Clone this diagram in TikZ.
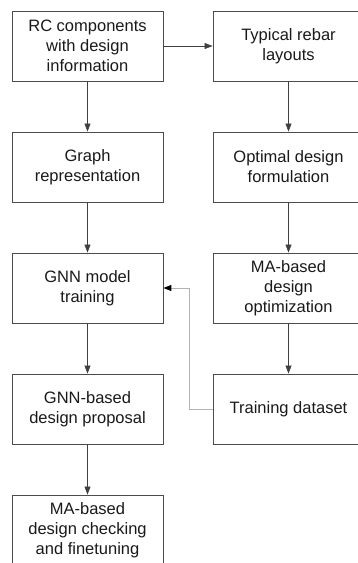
\documentclass[tikz,border=0pt]{standalone}
\usepackage{fontspec}
\setmainfont{Liberation Sans}
\usetikzlibrary{arrows.meta}
\begin{document}
\begin{tikzpicture}[x=1pt,y=-1pt,
  stepbox/.style={draw=black!70, line width=0.9pt, minimum width=151pt, minimum height=70pt,
    inner sep=0pt, align=center, text=black!90, font=\fontsize{16.5}{20}\selectfont},
  flow/.style={draw=black!75, line width=0.6pt, -{Triangle[length=8pt,width=6pt]}},
  back/.style={draw=black!30, line width=1pt, -{Triangle[length=8pt,width=6pt,color=black]}}]
\useasboundingbox (0,0) rectangle (358,563);
\clip (0,0) rectangle (358,563);
\node[stepbox] (rc) at (87.5,46) {RC components\\with design\\information};
\node[stepbox] (rebar) at (288.5,46) {Typical rebar\\layouts};
\node[stepbox] (graph) at (87.5,167) {Graph\\representation};
\node[stepbox] (opt) at (288.5,167) {Optimal design\\formulation};
\node[stepbox] (gnn) at (87.5,288) {GNN model\\training};
\node[stepbox] (ma) at (288.5,288) {MA-based\\design\\optimization};
\node[stepbox] (prop) at (87.5,409) {GNN-based\\design proposal};
\node[stepbox] (td) at (288.5,409) {Training dataset};
\node[stepbox] (check) at (87.5,530) {MA-based\\design checking\\and finetuning};
\draw[flow] (rc) -- (rebar);
\draw[flow] (rc) -- (graph);
\draw[flow] (rebar) -- (opt);
\draw[flow] (graph) -- (gnn);
\draw[flow] (opt) -- (ma);
\draw[flow] (ma) -- (td);
\draw[flow] (gnn) -- (prop);
\draw[flow] (prop) -- (check);
\coordinate (bend) at (189,409);
\draw[back] (td.west) -- (bend) |- (gnn.east);
\end{tikzpicture}
\end{document}
